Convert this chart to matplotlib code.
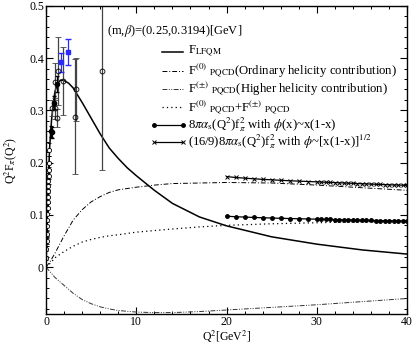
import matplotlib
matplotlib.use('Agg')
import matplotlib.pyplot as plt
from matplotlib.ticker import MultipleLocator

plt.rcParams['font.family'] = ['Liberation Serif', 'DejaVu Serif']
plt.rcParams['mathtext.fontset'] = 'stix'

# F_LFQM curve
lfqm_q2 = [0, 0.05, 0.1, 0.2, 0.3, 0.4, 0.6, 0.8, 1.0, 1.3, 1.6, 2.0, 2.5, 3.0,
           4.0, 5.0, 6.0, 7.0, 8.0, 9.0, 10, 12, 14, 17, 20, 25, 30, 35, 40]
lfqm_val = [0.0, 0.04, 0.075, 0.14, 0.19, 0.23, 0.28, 0.315, 0.337, 0.352,
            0.358, 0.357, 0.352, 0.343, 0.315, 0.285, 0.255, 0.228, 0.208,
            0.19, 0.175, 0.147, 0.122, 0.096, 0.079, 0.058, 0.044, 0.033,
            0.025]

# PQCD curves
pqcd_q2 = [0, 0.5, 1, 2, 3, 4, 5, 6, 7, 8, 10, 12, 14, 17, 20, 25, 30, 35, 40]
f0_val = [0.0, 0.012, 0.027, 0.06, 0.09, 0.11, 0.125, 0.135, 0.143, 0.148,
          0.153, 0.157, 0.16, 0.161, 0.162, 0.161, 0.157, 0.152, 0.147]
fpm_val = [0.0, -0.01, -0.02, -0.035, -0.05, -0.062, -0.07, -0.076, -0.08,
           -0.083, -0.086, -0.087, -0.087, -0.085, -0.082, -0.077, -0.072,
           -0.066, -0.06]
fsum_val = [0.0, 0.008, 0.018, 0.03, 0.04, 0.048, 0.053, 0.057, 0.06, 0.062,
            0.067, 0.07, 0.073, 0.077, 0.08, 0.083, 0.085, 0.087, 0.088]

# asymptotic points
asym_q2 = [20, 21, 22, 23, 24, 25, 26, 27, 28, 29, 30, 30.5, 31, 31.5, 32,
           32.5, 33, 33.5, 34, 34.5, 35, 35.5, 36, 36.5, 37, 37.5, 38, 38.5,
           39, 39.5, 40]
asym1_val = [0.0975, 0.0965, 0.0958, 0.0951, 0.0945, 0.094, 0.0935, 0.093,
             0.0926, 0.0922, 0.0918, 0.0916, 0.0914, 0.0912, 0.091, 0.0908,
             0.0906, 0.0904, 0.0902, 0.09, 0.0898, 0.0896, 0.0894, 0.0892,
             0.089, 0.0889, 0.0887, 0.0885, 0.0884, 0.0882, 0.088]
asym2_val = [0.1733, 0.1716, 0.1703, 0.1691, 0.168, 0.1671, 0.1662, 0.1653,
             0.1646, 0.1639, 0.1632, 0.1628, 0.1625, 0.1621, 0.1618, 0.1614,
             0.1611, 0.1607, 0.1604, 0.16, 0.1596, 0.1593, 0.1589, 0.1586,
             0.1582, 0.158, 0.1577, 0.1573, 0.1572, 0.1568, 0.1564]

# data: low Q2 open circles
lo_q2 = [0.02, 0.04, 0.06, 0.08, 0.10, 0.12, 0.14, 0.16, 0.18, 0.20, 0.22,
         0.24, 0.26, 0.28, 0.30, 0.33, 0.36]
lo_val = [0.018, 0.035, 0.05, 0.064, 0.078, 0.09, 0.102, 0.113, 0.125, 0.135,
          0.146, 0.156, 0.165, 0.175, 0.185, 0.2, 0.225]
lo_err = [0.004, 0.005, 0.006, 0.007, 0.008, 0.009, 0.01, 0.01, 0.011, 0.012,
          0.013, 0.014, 0.015, 0.016, 0.017, 0.012, 0.012]

# data: open circles, higher Q2
mid_q2 = [0.66, 1.03, 1.2, 1.03, 1.3, 1.84, 3.25, 3.3, 6.2]
mid_val = [0.304, 0.304, 0.285, 0.355, 0.376, 0.357, 0.288, 0.34, 0.375]
mid_err = [0.015, 0.02, 0.017, 0.035, 0.065, 0.065, 0.11, 0.06, 0.19]

# data: filled black circles
fill_q2 = [0.6, 0.7, 0.9, 1.25]
fill_val = [0.26, 0.258, 0.315, 0.35]
fill_err = [0.01, 0.01, 0.012, 0.015]

# data: blue squares
blue_q2 = [1.6, 2.45]
blue_val = [0.392, 0.412]
blue_err = [0.018, 0.025]

fig = plt.figure(figsize=(4.15, 3.46), dpi=100)
ax = fig.add_axes([0.111, 0.092, 0.87, 0.891])

ax.plot(lfqm_q2, lfqm_val, '-', color='black', lw=1.1)
ax.plot(pqcd_q2, f0_val, color='black', lw=0.7, ls=(0, (5, 2, 1, 2)))
ax.plot(pqcd_q2, fpm_val, color='#333333', lw=0.7,
        ls=(0, (5, 1.5, 1, 1.5, 1, 1.5)))
ax.plot(pqcd_q2, fsum_val, color='black', lw=0.9, ls=(0, (1, 2.5)))
ax.plot(asym_q2, asym1_val, '-o', color='black', lw=0.9, ms=2.5)
ax.plot(asym_q2, asym2_val, '-x', color='black', lw=0.9, ms=2.5, mew=0.7)

ax.errorbar(lo_q2, lo_val, yerr=lo_err, fmt='o', mfc='white', mec='black',
            ms=3, ecolor='black', elinewidth=0.7, capsize=1.5, mew=0.6)
ax.errorbar(mid_q2, mid_val, yerr=mid_err, fmt='o', mfc='none', mec='black',
            ms=3.5, ecolor='#444444', elinewidth=0.9, capsize=2, mew=0.6)
ax.errorbar(fill_q2, fill_val, yerr=fill_err, fmt='o', color='black',
            ms=3, elinewidth=0.8, capsize=1.5)
ax.errorbar(blue_q2, blue_val, yerr=blue_err, fmt='s', color='#2a2aff',
            ms=3.5, elinewidth=0.9, capsize=2)

ax.set_xlim(0, 40)
ax.set_ylim(-0.09, 0.5)
ax.xaxis.set_major_locator(MultipleLocator(10))
ax.xaxis.set_minor_locator(MultipleLocator(2))
ax.yaxis.set_major_locator(MultipleLocator(0.1))
ax.yaxis.set_minor_locator(MultipleLocator(0.02))
ax.set_yticks([0, 0.1, 0.2, 0.3, 0.4, 0.5])
ax.set_yticklabels(['0', '0.1', '0.2', '0.3', '0.4', '0.5'])
ax.tick_params(which='both', direction='in', top=True, right=True,
               labelsize=8.5, pad=1.5)
ax.tick_params(which='major', length=5, width=0.8)
ax.tick_params(which='minor', length=2.5, width=0.7)
for s in ax.spines.values():
    s.set_linewidth(1.0)

ax.set_xlabel(r'Q$^2$[GeV$^2$]', fontsize=8.5)
ax.xaxis.set_label_coords(0.5, -0.046)
ax.set_ylabel(r'Q$^2$F$_\pi$(Q$^2$)', fontsize=8.5)
ax.yaxis.set_label_coords(-0.075, 0.5)

ax.text(0.169, 0.917, r'(m,$\beta$)=(0.25,0.3194)[GeV]', fontsize=9,
        transform=ax.transAxes, ha='left', va='center')

# legend drawn by hand
labels = [r'F$_{\rm LFQM}$',
          r'F$^{(0)}$ $_{\rm PQCD}$(Ordinary helicity contribution)',
          r'F$^{(\pm)}$ $_{\rm PQCD}$(Higher helicity contribution)',
          r'F$^{(0)}$ $_{\rm PQCD}$+F$^{(\pm)}$ $_{\rm PQCD}$',
          r'8$\pi\alpha_{\rm s}$(Q$^2$)f$^2_\pi$ with $\phi$(x)~x(1-x)',
          r'(16/9)8$\pi\alpha_{\rm s}$(Q$^2$)f$^2_\pi$ with $\phi$~[x(1-x)]$^{1/2}$']
rows_y = [0.852, 0.79, 0.73, 0.671, 0.615, 0.558]
x0, x1, xt = 0.32, 0.38, 0.393
styles = [dict(ls='-', lw=1.1, color='black'),
          dict(ls=(0, (5, 2, 1, 2)), lw=0.7, color='black'),
          dict(ls=(0, (5, 1.5, 1, 1.5, 1, 1.5)), lw=0.7, color='#333333'),
          dict(ls=(0, (1, 2.5)), lw=0.9, color='black'),
          dict(ls='-', lw=0.9, color='black', marker='o', ms=2.5),
          dict(ls='-', lw=0.9, color='black', marker='x', ms=2.5, mew=0.7)]
for lab, yy, st in zip(labels, rows_y, styles):
    if 'marker' in st:
        ax.plot([x0 - 0.02, x1], [yy, yy], transform=ax.transAxes,
                clip_on=False, **st)
    else:
        ax.plot([x0, x1], [yy, yy], transform=ax.transAxes, clip_on=False,
                **st)
    ax.text(xt, yy, lab, transform=ax.transAxes, fontsize=9.2,
            ha='left', va='center')

fig.savefig('out.png', dpi=100)
